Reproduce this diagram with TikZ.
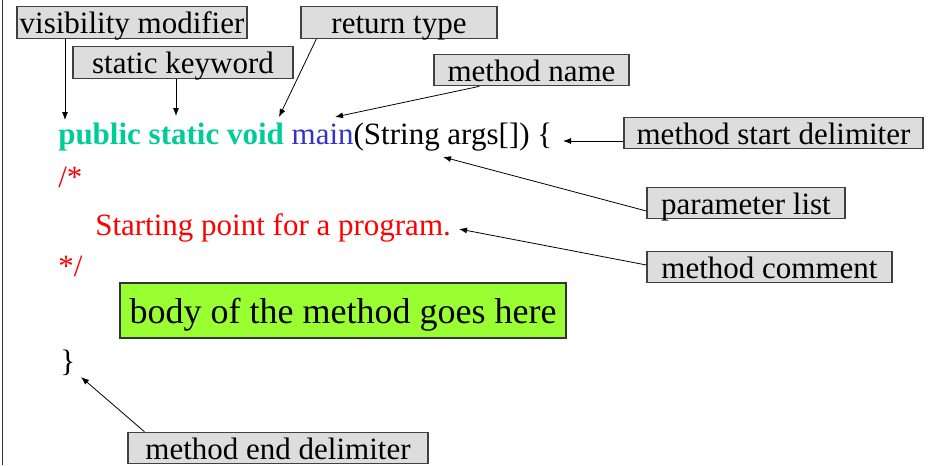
\documentclass[tikz,border=0pt]{standalone}
\usepackage{fontspec}
\setmainfont{Liberation Serif}
\usetikzlibrary{arrows.meta}
\definecolor{kwteal}{RGB}{0,204,153}
\definecolor{nameblue}{RGB}{51,51,204}
\definecolor{boxgray}{RGB}{221,221,221}
\definecolor{boxedge}{RGB}{64,64,64}
\definecolor{bodygreen}{RGB}{153,255,51}
\newcommand{\codesize}{\fontsize{23.25pt}{28pt}\selectfont}
\tikzset{
  lbl/.style={draw=boxedge, line width=0.9pt, fill=boxgray, inner sep=0pt,
    minimum height=23.6pt, text height=18.5pt, text depth=2pt,
    font=\codesize, text=black},
  bodybox/.style={draw=black!80, line width=0.9pt, fill=bodygreen, inner sep=0pt,
    minimum width=334.5pt, minimum height=41.25pt, text height=22pt, text depth=3.2pt,
    font=\fontsize{27pt}{32pt}\selectfont, text=black},
  code/.style={anchor=base west, inner sep=0pt, font=\codesize},
  pointer/.style={-{Latex[length=6pt,width=4.5pt]}, line width=0.6pt, black},
}
\begin{document}
\begin{tikzpicture}[x=0.75pt,y=-0.75pt]
\useasboundingbox (0,0) rectangle (930,465);
\draw[line width=1.1pt, black!80] (2.5,0) -- (2.5,465);

% code lines
\node[code] (sig) at (58,144) {\textcolor{kwteal}{\bfseries public static void} \textcolor{nameblue}{main}(String args[]) \{};
\node[code, text=red] (open) at (58,187) {/*};
\node[code, text=red] (comment) at (95,235) {Starting point for a program.};
\node[code, text=red] (close) at (58,276) {*/};
\node[bodybox] (body) at (343,310.5) {body of the method goes here};
\node[code] (endbrace) at (60,371) {\}};

% labels
\node[lbl, minimum width=172.5pt] (vis) at (132,22.5) {visibility modifier};
\node[lbl, minimum width=147pt] (ret) at (399,22.5) {return type};
\node[lbl, minimum width=165pt] (stat) at (183,62.5) {static keyword};
\node[lbl, minimum width=146.25pt] (mname) at (531.5,70) {method name};
\node[lbl, minimum width=224.25pt] (mstart) at (773.5,133) {method start delimiter};
\node[lbl, minimum width=148.5pt] (plist) at (746,203) {parameter list};
\node[lbl, minimum width=183.75pt] (mcom) at (769.5,267) {method comment};
\node[lbl, minimum width=225pt] (mend) at (278,448) {method end delimiter};

% arrow targets in the code
\coordinate (tvis) at (65,120);
\coordinate (tstat) at (176,116);
\coordinate (tret) at (279,117);
\coordinate (tname) at (335,117);
\coordinate (tstart) at (563,141);
\coordinate (tparam) at (443,157);
\coordinate (tcom) at (459,229);
\coordinate (tend) at (81,377);

% connectors
\draw[pointer] (vis.south -| tvis) -- (tvis);
\draw[pointer] (stat.south -| tstat) -- (tstat);
\draw[pointer] ([xshift=12pt]ret.south west) -- (tret);
\draw[pointer] ([xshift=34.5pt]mname.south west) -- (tname);
\draw[pointer] (mstart.west |- tstart) -- (tstart);
\draw[pointer] ([yshift=-6pt]plist.west) -- (tparam);
\draw[pointer] ([yshift=1.5pt]mcom.west) -- (tcom);
\draw[pointer] ([xshift=12.75pt]mend.north west) -- (tend);
\end{tikzpicture}
\end{document}
